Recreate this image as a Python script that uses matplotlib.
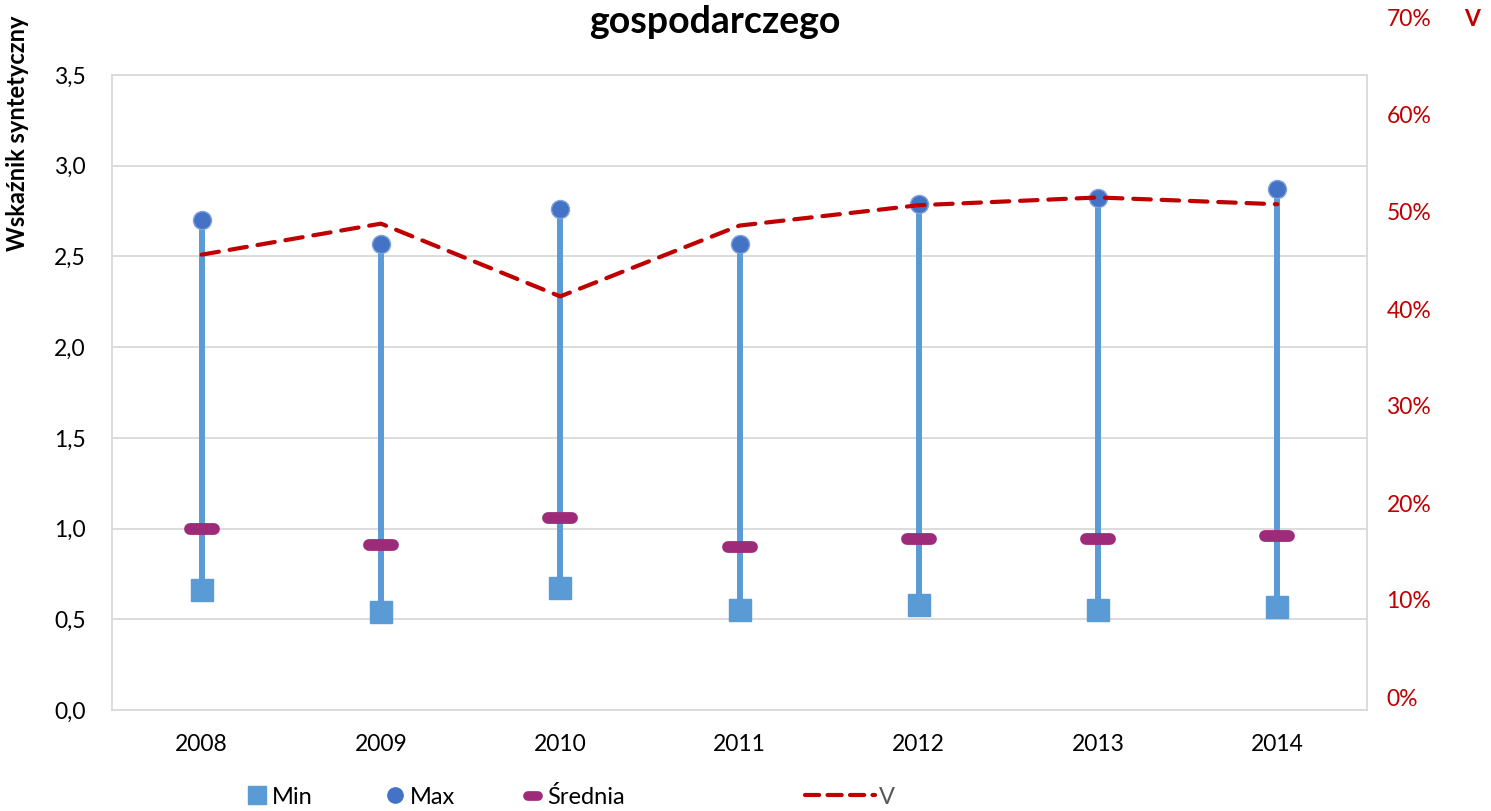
import numpy as np
import matplotlib.pyplot as plt
from matplotlib.ticker import FuncFormatter, MultipleLocator
from matplotlib.markers import MarkerStyle
from matplotlib.lines import Line2D

plt.rcParams['font.family'] = ['Lato', 'DejaVu Sans']

years = ['2008', '2009', '2010', '2011', '2012', '2013', '2014']
min_vals = [0.66, 0.54, 0.67, 0.55, 0.58, 0.55, 0.57]
max_vals = [2.70, 2.57, 2.76, 2.57, 2.79, 2.82, 2.87]
mean_vals = [1.00, 0.91, 1.06, 0.90, 0.94, 0.94, 0.96]
v_vals = [0.456, 0.488, 0.413, 0.486, 0.507, 0.515, 0.508]

W, H = 1491, 811
fig = plt.figure(figsize=(W / 100, H / 100), dpi=100)

def px_box(x0, y0, x1, y1):
    # pixel box (top-left origin) -> figure fraction rect
    return [x0 / W, 1 - y1 / H, (x1 - x0) / W, (y1 - y0) / H]

ax = fig.add_axes(px_box(112, 75, 1367, 710))
x = np.arange(len(years))

grid_c = '#D9D9D9'
blue = '#5B9BD5'
dark_blue = '#4472C4'
purple = '#9E2A7A'
red = '#C00000'
v_dashes = (4.2, 2.6)

ax.vlines(x, min_vals, max_vals, color=blue, lw=4.3, zorder=3)
ax.plot(x, min_vals, 's', color=blue, ms=15.5, zorder=4, lw=0)
ax.plot(x, max_vals, 'o', color=dark_blue, mec='#7FA3DB', mew=1, ms=13, zorder=4, lw=0)
ax.plot(x, mean_vals, marker=MarkerStyle('_', capstyle='round'), color=purple,
        ms=17, mew=8.5, lw=0, zorder=5)

ax.set_xlim(-0.5, len(years) - 0.5)
ax.set_ylim(0, 3.5)
ax.yaxis.set_major_locator(MultipleLocator(0.5))
ax.yaxis.set_major_formatter(FuncFormatter(lambda v, p: f'{v:.1f}'.replace('.', ',')))
ax.set_xticks(x)
ax.set_xticklabels(years)
ax.grid(axis='y', color=grid_c, lw=1.3)
ax.set_axisbelow(True)
for s in ax.spines.values():
    s.set_color(grid_c)
    s.set_linewidth(1.3)
ax.tick_params(axis='both', length=0, labelsize=16.5, colors='black')
ax.tick_params(axis='y', pad=19)
ax.tick_params(axis='x', pad=17)

# secondary axis for V (its scale sits offset from the main plot area)
ax2 = fig.add_axes(px_box(112, 18, 1367, 697))
ax2.patch.set_alpha(0)
ax2.plot(x, v_vals, color=red, lw=3, dashes=v_dashes, dash_capstyle='round', zorder=6)
ax2.set_xlim(-0.5, len(years) - 0.5)
ax2.set_ylim(0, 0.7)
ax2.yaxis.set_major_locator(MultipleLocator(0.1))
ax2.yaxis.set_major_formatter(FuncFormatter(lambda v, p: f'{v*100:.0f}%'))
ax2.yaxis.tick_right()
ax2.set_xticks([])
for s in ax2.spines.values():
    s.set_visible(False)
ax2.tick_params(axis='y', length=0, labelsize=16.5, colors=red, pad=14)

fig.text(715 / W, 1 - 22 / H, 'gospodarczego', ha='center', va='center',
         fontsize=27, fontweight='bold')
fig.text(1472 / W, 1 - 20 / H, 'V', ha='center', va='center',
         fontsize=16.5, fontweight='bold', color=red)
fig.text(18 / W, 1 - 133 / H, 'Wskaźnik syntetyczny', rotation=90,
         ha='center', va='center', fontsize=17, fontweight='bold')

# legend entries, each placed separately like in the original
entries = [
    (Line2D([], [], marker='s', color=blue, ls='', ms=13), 'Min', 248, 0.8),
    (Line2D([], [], marker='o', color=dark_blue, ls='', ms=11), 'Max', 386, 0.8),
    (Line2D([], [], marker=MarkerStyle('_', capstyle='round'), color=purple, ls='',
            ms=7, mew=7), 'Średnia', 524, 0.8),
    (Line2D([], [], color=red, lw=3, dashes=(3.4, 2.0), dash_capstyle='round'), 'V', 805, 2.95),
]
for handle, label, xpx, hl in entries:
    leg = fig.legend([handle], [label], loc='center left',
                     bbox_to_anchor=(xpx / W, 1 - 797 / H), frameon=False,
                     fontsize=17, handlelength=hl, handletextpad=0.2,
                     borderpad=0, borderaxespad=0)
    if label == 'V':
        leg.get_texts()[0].set_color('#595959')

fig.savefig('out.png', dpi=100)
